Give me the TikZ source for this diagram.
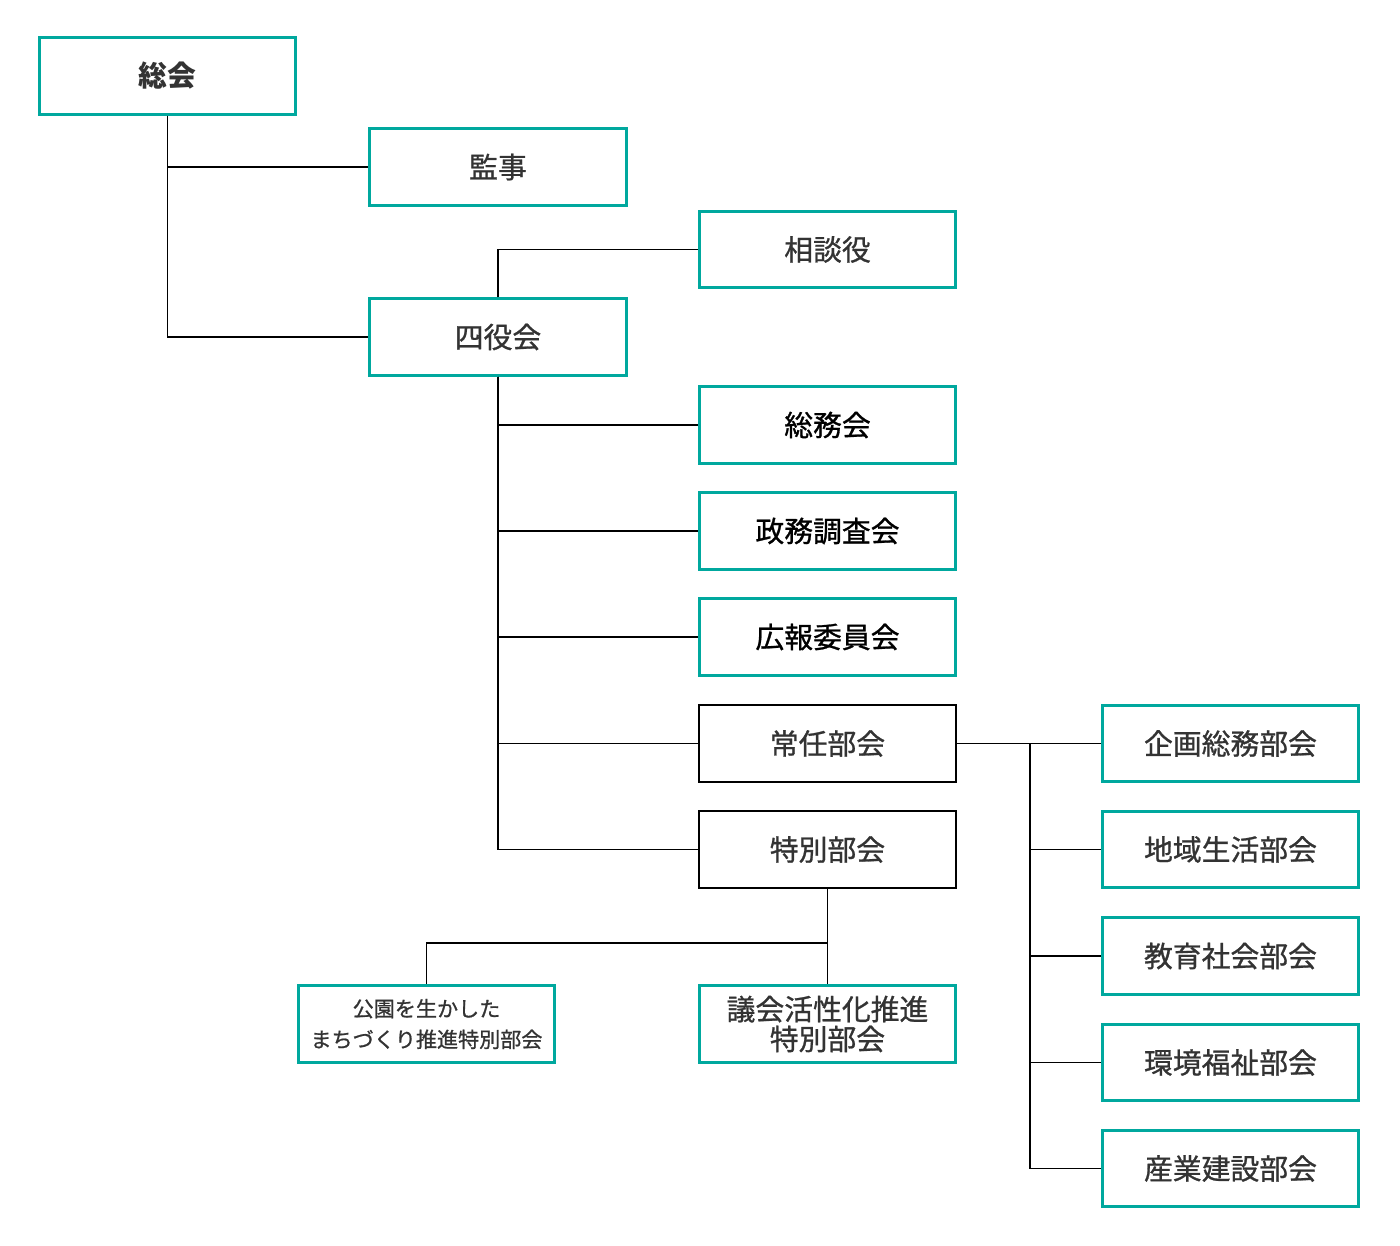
\documentclass[tikz,border=0pt]{standalone}
\usepackage{fontspec}
\setmainfont{Noto Sans CJK JP}
\newfontfamily\medfont{Noto Sans CJK JP}[FakeBold=0.9]
\definecolor{orgteal}{RGB}{0,168,158}
\definecolor{textgray}{RGB}{51,51,51}

\begin{document}
\begin{tikzpicture}[x=0.02cm,y=-0.02cm]
        \tikzstyle{box}=[rectangle,draw=orgteal,line width=1.7pt,minimum width=5.14cm,minimum height=1.53cm,inner sep=0pt,align=center,text=textgray,font=\fontsize{16.4}{17}\selectfont\medfont]
        \tikzstyle{plainbox}=[box,draw=black,line width=1.1pt]
        \tikzstyle{link}=[line width=1.1pt]
        \useasboundingbox (0,0) rectangle (1400,1245);
        % top
        \node[box,font=\fontsize{16.4}{17}\selectfont\bfseries] (sokai) at (167.5,76) {総会};
        \node[box] (kanji) at (498,167) {監事};
        \node[box] (sodan) at (827.5,249.5) {相談役};
        \node[box] (yonyaku) at (498,337) {四役会};
        % under yonyaku
        \node[box,text=black] (somu) at (827.5,425) {総務会};
        \node[box,text=black] (seimu) at (827.5,531) {政務調査会};
        \node[box,text=black] (koho) at (827.5,637) {広報委員会};
        \node[plainbox] (jonin) at (827.5,743.5) {常任部会};
        \node[plainbox] (tokubetsu) at (827.5,849.5) {特別部会};
        % special committees
        \node[box,font=\fontsize{12}{17.5}\selectfont\medfont] (koen) at (426.5,1024) {公園を生かした\\まちづくり推進特別部会};
        \node[box] (gikai) at (827.5,1024) {議会活性化推進\\特別部会};
        % standing committees
        \node[box] (kikaku) at (1230.5,743.5) {企画総務部会};
        \node[box] (chiiki) at (1230.5,849.5) {地域生活部会};
        \node[box] (kyoiku) at (1230.5,956) {教育社会部会};
        \node[box] (kankyo) at (1230.5,1062.5) {環境福祉部会};
        \node[box] (sangyo) at (1230.5,1168.5) {産業建設部会};

        \draw[link] (sokai.south) |- (kanji.west);
        \draw[link] (sokai.south) |- (yonyaku.west);
        \draw[link] (yonyaku.north) |- (sodan.west);
        \foreach \n in {somu,seimu,koho,jonin,tokubetsu}
            \draw[link] (yonyaku.south) |- (\n.west);
        \draw[link] (jonin.east) -- (kikaku.west);
        \coordinate (jbranch) at ([xshift=1.46cm]jonin.east);
        \foreach \n in {chiiki,kyoiku,kankyo,sangyo}
            \draw[link] (jbranch) |- (\n.west);
        \draw[link] (tokubetsu.south) -- (gikai.north);
        \coordinate (tbranch) at ([yshift=-1.08cm]tokubetsu.south);
        \draw[link] (tbranch) -| (koen.north);
\end{tikzpicture}
\end{document}
